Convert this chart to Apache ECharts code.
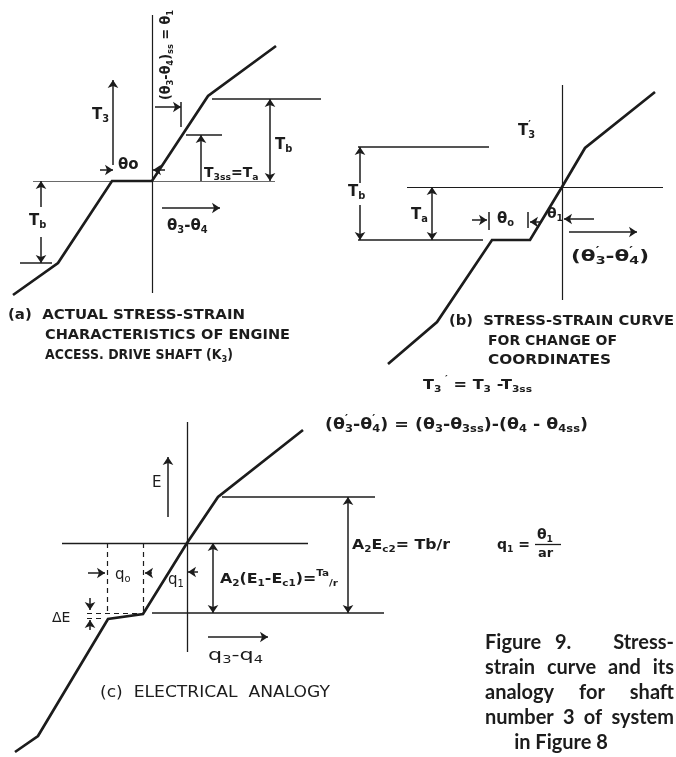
<!DOCTYPE html>
<html>
<head>
<meta charset="utf-8">
<script src="https://cdn.jsdelivr.net/npm/echarts@6/dist/echarts.min.js"></script>
<style>
  html, body { margin: 0; padding: 0; background: #ffffff; }
  #chart { width: 676px; height: 757px; }
</style>
</head>
<body>
<div id="chart"></div>
<script>
// ---------------------------------------------------------------------------
// Shaft no. 3 stress-strain characteristic (arbitrary twist / torque units)
// ---------------------------------------------------------------------------

// (a) actual characteristic: twist (theta3 - theta4) vs. torque T3
const curveA = [[-13.9, -11.4], [-9.4, -8.2], [-4.0, 0], [0, 0], [5.6, 8.5], [12.4, 13.5]];
const thetaA1 = 2.9;   // steady-state twist (theta3 - theta4)ss
const taA = 4.6;       // steady-state torque T3ss = Ta
const tbA = 8.2;       // torque at the stiffening knee, Tb

// (b) same curve after shifting the origin to the steady-state point
const curveB = [[-17.4, -17.7], [-12.5, -13.5], [-7.0, -5.3], [-3.2, -5.3], [0, 0], [2.3, 3.9], [9.3, 9.5]];
const taB = 5.3;       // Ta measured down from the new origin
const tbB = 9.3;       // Tb measured up from the backlash flat

// (c) electrical analogy: charge (q3 - q4) vs. voltage E
const curveC = [[-17.2, -20.9], [-14.9, -19.3], [-7.9, -7.6], [-4.4, -7.1], [0, 0], [3.1, 4.6], [11.6, 11.3]];
const taC = 7.0;       // A2(E1 - Ec1) = Ta / r
const tbC = 4.6;       // upper level, A2 Ec2 = Tb / r measured from the lower level

// Figure caption, one entry per printed line
const captionLines = [
  ['Figure', '9.', 'Stress-'],
  ['strain', 'curve', 'and', 'its'],
  ['analogy', 'for', 'shaft'],
  ['number', '3', 'of', 'system'],
  ['in Figure 8']
];

// ---------------------------------------------------------------------------
const INK = '#1c1c1c';
const SANS = '"DejaVu Sans", sans-serif';
const CAP = 'Lato, "DejaVu Sans", sans-serif';

const seg = (x1, y1, x2, y2) => ({ coords: [[x1, y1], [x2, y2]] });

function curveSeries(data, gi) {
  return {
    type: 'line', xAxisIndex: gi, yAxisIndex: gi, data,
    showSymbol: false, symbol: 'none', silent: true, animation: false, z: 4,
    lineStyle: { color: INK, width: 2.7, join: 'miter' }
  };
}
function segSeries(data, gi, width, opts = {}) {
  return {
    type: 'lines', coordinateSystem: 'cartesian2d', xAxisIndex: gi, yAxisIndex: gi,
    data, silent: true, animation: false, clip: false, z: 3,
    symbol: opts.symbol || 'none', symbolSize: opts.symbolSize || 8,
    lineStyle: { color: opts.color || INK, width, opacity: 1, type: opts.dash || 'solid', curveness: 0 }
  };
}
const arrowSeries = (data, gi) => segSeries(data, gi, 1.5, { symbol: ['none', 'arrow'], symbolSize: 8 });
const dblSeries = (data, gi) => segSeries(data, gi, 1.5, { symbol: ['arrow', 'arrow'], symbolSize: 8 });

// ---- panel (a) annotation --------------------------------------------------
const axesA = [seg(0, -11.2, 0, 16.6)];
const baseA = [seg(-11.9, 0, 12.3, 0)];
const levelsA = [seg(6.0, tbA, 16.9, tbA), seg(3.4, taA, 7.0, taA), seg(-13.2, -tbA, -10.0, -tbA),
                 seg(thetaA1, 5.4, thetaA1, 7.9)];
const arrowsA = [seg(4.9, 0, 4.9, taA), seg(-11.1, -2.6, -11.1, 0), seg(-11.1, -5.6, -11.1, -tbA),
                 seg(-3.9, 1.6, -3.9, 10.1), seg(-5.2, 1.1, -3.9, 1.1), seg(1.3, 1.1, 0.1, 1.1),
                 seg(0.3, 7.4, thetaA1, 7.4), seg(1.0, -2.7, 6.8, -2.7)];
const dblA = [seg(11.8, 0, 11.8, tbA)];

// ---- panel (b) annotation --------------------------------------------------
const topB = tbB - taB;
const axesB = [seg(0, -11.3, 0, 10.2), seg(-15.5, 0, 10.1, 0)];
const levelsB = [seg(-20.4, topB, -7.3, topB), seg(-20.4, -taB, -7.9, -taB),
                 seg(-7.3, -2.5, -7.3, -4.3), seg(-3.4, -2.5, -3.4, -4.1)];
const arrowsB = [seg(-20.2, 0.4, -20.2, topB), seg(-20.2, -1.8, -20.2, -taB),
                 seg(-9.0, -3.3, -7.5, -3.3), seg(-2.0, -3.5, -3.2, -3.5),
                 seg(3.2, -3.2, 0.2, -3.2), seg(0.7, -4.5, 7.5, -4.5)];
const dblB = [seg(-13.0, 0, -13.0, -taB)];

// ---- panel (c) annotation --------------------------------------------------
const axesC = [seg(0, -10.9, 0, 12.1), seg(-12.5, 0, 12.1, 0)];
const levelsC = [seg(3.5, tbC, 18.8, tbC), seg(-3.5, -taC, 19.7, -taC)];
const dashC = [seg(-8.0, 0, -8.0, -taC), seg(-4.4, 0, -4.4, -taC),
               seg(-10.0, -taC, -4.4, -taC), seg(-10.0, -7.5, -8.4, -7.5)];
const arrowsC = [seg(-9.7, -5.5, -9.7, -6.7), seg(-9.7, -8.7, -9.7, -7.7),
                 seg(-9.9, -3.0, -8.2, -3.0), seg(-3.5, -3.0, -4.2, -3.0),
                 seg(1.1, -2.9, 0.1, -2.9), seg(-1.9, 2.6, -1.9, 8.6), seg(2.1, -9.4, 8.1, -9.4)];
const dblC = [seg(2.6, 0, 2.6, -taC), seg(16.1, tbC, 16.1, -taC)];

// ---- text helpers ------------------------------------------------------------
const ctx = document.createElement('canvas').getContext('2d');
function textWidth(t, font) { ctx.font = font; return ctx.measureText(t).width; }

// parts: [text, kind]  kind: '' normal, 's' subscript, 'sn' subscript stacked under
// the following superscript 'p' (e.g. a primed, indexed symbol)
function label(x, y, parts, o = {}) {
  const size = o.size || 15, weight = o.weight || 'bold', fam = o.family || SANS;
  if (typeof parts === 'string') parts = [[parts, '']];
  const kids = [];
  let cur = 0, pend = 0;
  for (const [t, k] of parts) {
    const s = k ? size * 0.66 : size;
    const font = `${weight} ${s}px ${fam}`;
    const dy = (k === 's' || k === 'sn') ? size * 0.32 : (k === 'p' ? -size * 0.36 : 0);
    const w = textWidth(t, font);
    if (k !== 'p' && pend) { cur += pend; pend = 0; }
    kids.push({ type: 'text', x: cur, y: dy,
      style: { text: t, font, fill: INK, textAlign: 'left', textVerticalAlign: 'middle' } });
    if (k === 'sn') { pend = w; continue; }
    if (k === 'p' && pend) { cur += Math.max(pend, w); pend = 0; continue; }
    cur += w;
  }
  cur += pend;
  const shift = o.align === 'center' ? -cur / 2 : (o.align === 'right' ? -cur : 0);
  kids.forEach(k => { k.x += shift; });
  const sx = o.w ? o.w / cur : (o.sx || 1);
  return { type: 'group', x, y, rotation: o.rot || 0, scaleX: sx, silent: true, children: kids };
}

const graphics = [];
const L = (...a) => graphics.push(label(...a));

// panel (a)
L(92, 115, [['T', ''], ['3', 's']]);
L(118, 165, [['θ', ''], ['o', '']]);
L(166, 100, [['(θ', ''], ['3', 's'], ['-θ', ''], ['4', 's'], [')', ''], ['ss', 's'], [' = θ', ''], ['1', 's']],
  { size: 14, rot: Math.PI / 2, w: 90 });
L(275, 145, [['T', ''], ['b', 's']]);
L(204, 173, [['T', ''], ['3ss', 's'], ['=T', ''], ['a', 's']], { size: 14 });
L(29, 221, [['T', ''], ['b', 's']]);
L(167, 226, [['θ', ''], ['3', 's'], ['-θ', ''], ['4', 's']]);
L(8, 315, '(a)  ACTUAL STRESS-STRAIN', { size: 14.5, w: 237 });
L(45, 335, 'CHARACTERISTICS OF ENGINE', { size: 14.5, w: 245 });
L(45, 355, [['ACCESS. DRIVE SHAFT (K', ''], ['3', 's'], [')', '']], { size: 14.5, w: 188 });

// panel (b)
L(518, 131, [['T', ''], ['3', 'sn'], ['′', 'p']]);
L(348, 192, [['T', ''], ['b', 's']]);
L(411, 215, [['T', ''], ['a', 's']]);
L(497, 219, [['θ', ''], ['o', 's']]);
L(547, 214, [['θ', ''], ['1', 's']], { size: 14 });
L(571, 257, [['(θ', ''], ['3', 'sn'], ['′', 'p'], ['-θ', ''], ['4', 'sn'], ['′', 'p'], [')', '']], { size: 15, w: 78 });
L(449, 321, '(b)  STRESS-STRAIN CURVE', { size: 14.5, w: 225 });
L(488, 341, 'FOR CHANGE OF', { size: 14.5, w: 129 });
L(488, 360, 'COORDINATES', { size: 14.5, w: 123 });
L(423, 385, [['T', ''], ['3', 's'], [' ′', 'p'], [' = T', ''], ['3', 's'], [' -T', ''], ['3ss', 's']], { size: 14, w: 109 });

// panel (c)
L(325, 425, [['(θ', ''], ['3', 'sn'], ['′', 'p'], ['-θ', ''], ['4', 'sn'], ['′', 'p'], [') = (θ', ''], ['3', 's'],
  ['-θ', ''], ['3ss', 's'], [')-(θ', ''], ['4', 's'], [' - θ', ''], ['4ss', 's'], [')', '']], { size: 15, w: 263 });
L(152, 483, 'E', { size: 15, weight: 'normal' });
L(115, 575, [['q', ''], ['o', 's']], { size: 15, weight: 'normal' });
L(168, 580, [['q', ''], ['1', 's']], { size: 15, weight: 'normal' });
L(52, 618, 'ΔE', { size: 14, weight: 'normal' });
L(220, 579, [['A', ''], ['2', 's'], ['(E', ''], ['1', 's'], ['-E', ''], ['c1', 's'], [')=', ''], ['Ta', 'p'], ['/r', 's']],
  { size: 14, w: 118 });
L(352, 545, [['A', ''], ['2', 's'], ['E', ''], ['c2', 's'], ['= Tb/r', '']], { size: 14, w: 98 });
L(497, 545, [['q', ''], ['1', 's'], [' =', '']], { size: 14 });
L(537, 535, [['θ', ''], ['1', 's']], { size: 14 });
L(538, 554, 'ar', { size: 13 });
graphics.push({ type: 'line', silent: true, shape: { x1: 535, y1: 544.5, x2: 561, y2: 544.5 },
  style: { stroke: INK, lineWidth: 1.3 } });
L(208, 656, [['q', ''], ['3', 's'], ['-q', ''], ['4', 's']], { size: 15, weight: 'normal', w: 55 });
L(100, 693, '(c)  ELECTRICAL  ANALOGY', { size: 15, weight: 'normal', w: 230 });

// figure caption: justified block at the lower right
const capLeft = 485, capRight = 674, capTop = 643, capStep = 25;
const capFont = `bold 20px ${CAP}`;
const capText = (text, x, y, align) => graphics.push({ type: 'text', x, y, silent: true,
  style: { text, font: capFont, fill: INK, textAlign: align, textVerticalAlign: 'middle' } });
captionLines.forEach((words, i) => {
  const y = capTop + i * capStep;
  if (i === 0) {                       // wider break after the figure number
    capText(words[0], capLeft, y, 'left');
    capText(words[1], 555, y, 'left');
    capText(words[2], capRight, y, 'right');
    return;
  }
  if (i === captionLines.length - 1) {
    capText(words[0], 561, y, 'center');
    return;
  }
  const widths = words.map(w => textWidth(w, capFont));
  const gap = (capRight - capLeft - widths.reduce((a, b) => a + b, 0)) / (words.length - 1);
  let x = capLeft;
  words.forEach((w, j) => { capText(w, x, y, 'left'); x += widths[j] + gap; });
});

// ---- grids: one per panel, 10 px per unit --------------------------------------
const grids = [
  { left: 12, top: 11, width: 320, height: 290 },   // (a)  x -14..18, y -12..17
  { left: 352, top: 77, width: 320, height: 300 },  // (b)  x -21..11, y -19..11
  { left: 7, top: 413, width: 390, height: 340 }    // (c)  x -18..21, y -21..13
];
const xr = [[-14, 18], [-21, 11], [-18, 21]];
const yr = [[-12, 17], [-19, 11], [-21, 13]];

const option = {
  backgroundColor: '#ffffff',
  animation: false,
  grid: grids,
  xAxis: xr.map((r, i) => ({ type: 'value', gridIndex: i, min: r[0], max: r[1], show: false })),
  yAxis: yr.map((r, i) => ({ type: 'value', gridIndex: i, min: r[0], max: r[1], show: false })),
  series: [
    curveSeries(curveA, 0),
    segSeries(axesA, 0, 1.2),
    segSeries(baseA, 0, 1.0, { color: '#6a6a6a' }),
    segSeries(levelsA, 0, 1.5),
    arrowSeries(arrowsA, 0),
    dblSeries(dblA, 0),

    curveSeries(curveB, 1),
    segSeries(axesB, 1, 1.2),
    segSeries(levelsB, 1, 1.5),
    arrowSeries(arrowsB, 1),
    dblSeries(dblB, 1),

    curveSeries(curveC, 2),
    segSeries(axesC, 2, 1.3),
    segSeries(levelsC, 2, 1.6),
    segSeries(dashC, 2, 1.2, { dash: [5, 4] }),
    arrowSeries(arrowsC, 2),
    dblSeries(dblC, 2)
  ],
  graphic: graphics
};

const chart = echarts.init(document.getElementById('chart'), null, { renderer: 'canvas' });
chart.setOption(option);
</script>
</body>
</html>
